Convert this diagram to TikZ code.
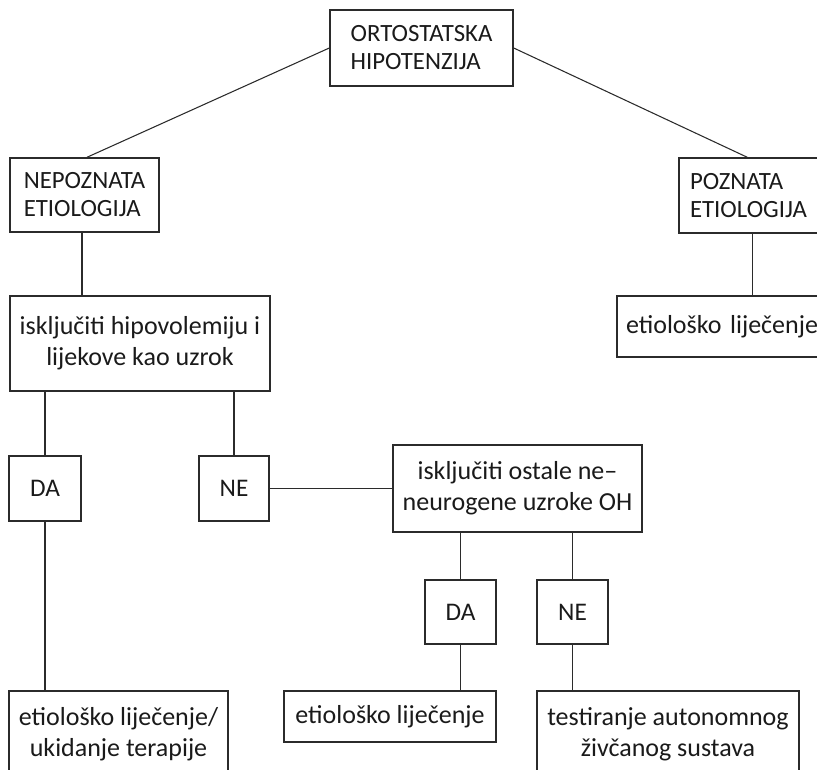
\documentclass[tikz,border=0pt]{standalone}
\usepackage{fontspec}
\setmainfont{Carlito}
\usetikzlibrary{calc}
\definecolor{ink}{HTML}{1A1A1A}
\definecolor{edge}{HTML}{2B2B2B}
\tikzset{
  box/.style={draw=edge, line width=1.1pt, rectangle, inner sep=0pt, text=ink, align=center},
  capsbox/.style={box, font=\fontsize{18.6}{21}\selectfont},
  lowbox/.style={box, font=\fontsize{19.5}{23.25}\selectfont},
  ynbox/.style={box, font=\fontsize{19}{22}\selectfont},
  wire/.style={draw=edge, line width=1.1pt},
  diag/.style={draw=edge, line width=0.8pt}
}
\begin{document}
\begin{tikzpicture}[x=0.75pt, y=-0.75pt]
\useasboundingbox (0,0) rectangle (817,769);
\begin{scope}
\clip (0,0) rectangle (817,769);
% boxes
\node[capsbox, align=left, minimum width=183*0.75pt, minimum height=76*0.75pt] (top) at (421.5,48) {ORTOSTATSKA\\HIPOTENZIJA};
\node[capsbox, align=left, minimum width=149*0.75pt, minimum height=74*0.75pt] (nep) at (84.5,195) {NEPOZNATA\\ETIOLOGIJA};
\node[capsbox, align=left, text width=139*0.75pt, inner xsep=11*0.75pt, minimum height=75*0.75pt] (pozn) at (759.5,195.5) {POZNATA\\ETIOLOGIJA};
\node[lowbox, align=left, text width=205*0.75pt, inner xsep=9*0.75pt, minimum height=61*0.75pt] (etr) at (728.5,326.5) {etiološko liječenje};
\node[lowbox, minimum width=260*0.75pt, minimum height=95*0.75pt] (isk1) at (140,343.5) {isključiti hipovolemiju i\\lijekove kao uzrok};
\node[ynbox, minimum width=72*0.75pt, minimum height=65*0.75pt] (da1) at (45,488.5) {DA};
\node[ynbox, minimum width=70*0.75pt, minimum height=65*0.75pt] (ne1) at (234,488.5) {NE};
\node[lowbox, minimum width=249*0.75pt, minimum height=87*0.75pt] (isk2) at (517.5,488.5) {isključiti ostale ne–\\neurogene uzroke OH};
\node[ynbox, minimum width=71*0.75pt, minimum height=64*0.75pt] (da2) at (460.5,612) {DA};
\node[ynbox, minimum width=71*0.75pt, minimum height=64*0.75pt] (ne2) at (572.5,612) {NE};
\node[lowbox, minimum width=219*0.75pt, minimum height=87*0.75pt] (b1) at (118.5,734.5) {etiološko liječenje/\\ukidanje terapije};
\node[lowbox, minimum width=212*0.75pt, minimum height=51*0.75pt] (b2) at (390,716.5) {etiološko liječenje};
\node[lowbox, minimum width=262*0.75pt, minimum height=87*0.75pt] (b3) at (668,734.5) {testiranje autonomnog\\živčanog sustava};
% connectors
\draw[diag] (top.west) -- ([xshift=2.5*0.75pt]nep.north);
\draw[diag] (top.east) -- ([xshift=69*0.75pt]pozn.north west);
\draw[wire] ([xshift=-2.5*0.75pt]nep.south) -- ([xshift=-2.5*0.75pt]nep.south |- isk1.north);
\draw[wire] ([xshift=74*0.75pt]pozn.south west) -- ([xshift=74*0.75pt]pozn.south west |- etr.north);
\draw[wire] (da1.north) -- (da1.north |- isk1.south);
\draw[wire] (ne1.north) -- (ne1.north |- isk1.south);
\draw[wire] (ne1.east) -- (ne1.east -| isk2.west);
\draw[wire] (da2.north) -- (da2.north |- isk2.south);
\draw[wire] (ne2.north) -- (ne2.north |- isk2.south);
\draw[wire] (da1.south) -- (da1.south |- b1.north);
\draw[wire] (da2.south) -- (da2.south |- b2.north);
\draw[wire] (ne2.south) -- (ne2.south |- b3.north);
\end{scope}
\end{tikzpicture}
\end{document}
